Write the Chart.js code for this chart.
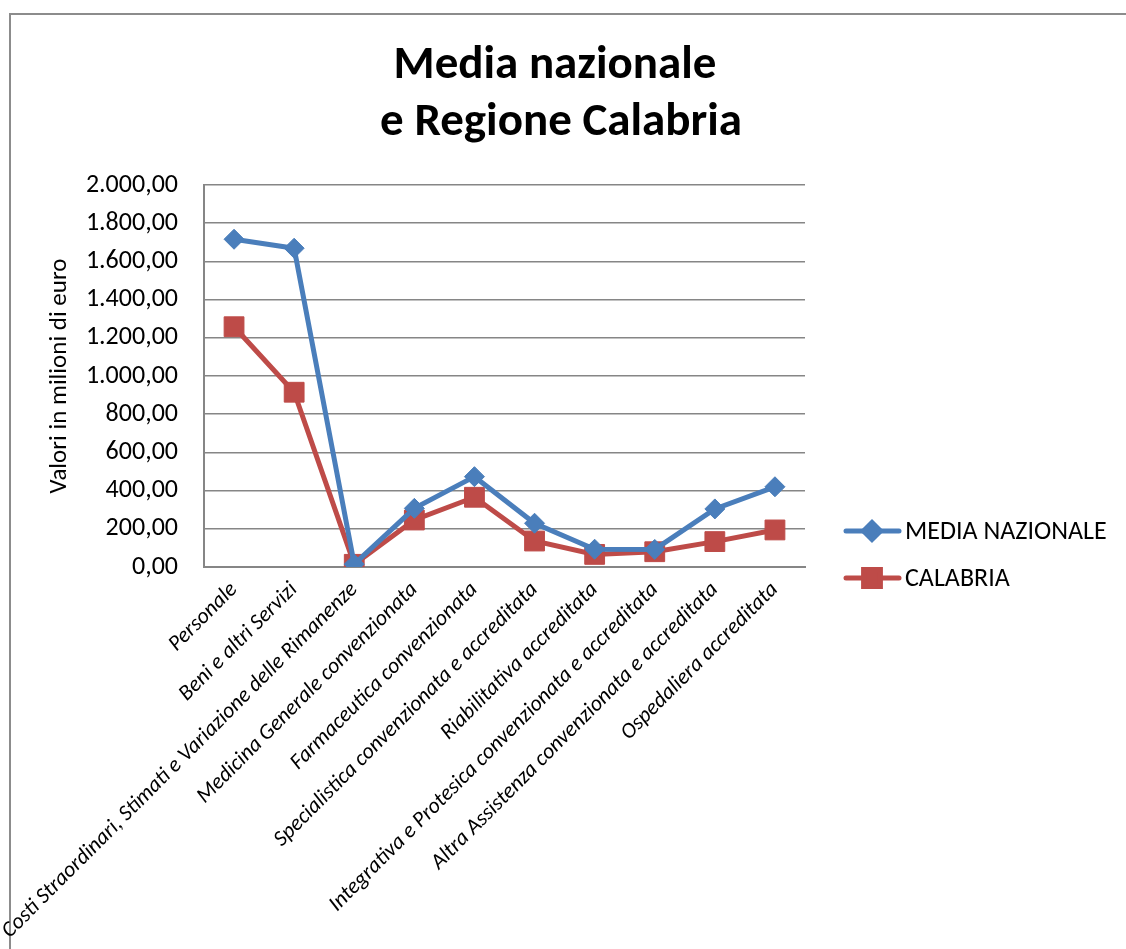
<!DOCTYPE html>
<html>
<head>
<meta charset="utf-8">
<script src="https://cdn.jsdelivr.net/npm/chart.js@4/dist/chart.umd.min.js"></script>
<style>
  html, body { margin: 0; padding: 0; background: #ffffff; }
  #wrap { width: 1126px; height: 949px; position: relative; }
</style>
</head>
<body>
<div id="wrap"><canvas id="c" width="1126" height="949"></canvas></div>
<script>
// Cost categories (milioni di euro)
const categories = [
  'Personale',
  'Beni e altri Servizi',
  'Costi Straordinari, Stimati e Variazione delle Rimanenze',
  'Medicina Generale convenzionata',
  'Farmaceutica convenzionata',
  'Specialistica convenzionata e accreditata',
  'Riabilitativa accreditata',
  'Integrativa e Protesica convenzionata e accreditata',
  'Altra Assistenza convenzionata e accreditata',
  'Ospedaliera accreditata'
];
const mediaNazionale = [1716, 1669, 15, 307, 473, 229, 93, 92, 304, 420];
const calabria = [1258, 915, 14, 246, 365, 136, 66, 80, 133, 194];
const seriesNames = ['MEDIA NAZIONALE', 'CALABRIA'];
const titleLines = ['Media nazionale', 'e Regione Calabria'];
const yAxisTitle = 'Valori in milioni di euro';
const yMin = 0, yMax = 2000, yStep = 200;

const FONT = 'Carlito, Lato, "Open Sans", sans-serif';
const BLUE = '#4a7ebb';
const RED = '#be4b48';
const GRID = '#868686';

// Italian number format: 1.800,00
function fmtIt(v) {
  const parts = Number(v).toFixed(2).split('.');
  return parts[0].replace(/\B(?=(\d{3})+(?!\d))/g, '.') + ',' + parts[1];
}

// Outer frame and two-line title
const framePlugin = {
  id: 'frameTitle',
  beforeDraw(chart) {
    const ctx = chart.ctx;
    ctx.save();
    ctx.fillStyle = '#ffffff';
    ctx.fillRect(0, 0, chart.width, chart.height);
    ctx.strokeStyle = '#8c8c8c';
    ctx.lineWidth = 2;
    ctx.strokeRect(10, 14, chart.width + 20, chart.height + 20);
    ctx.restore();
  },
  afterDraw(chart) {
    const ctx = chart.ctx;
    ctx.save();
    ctx.fillStyle = '#000000';
    ctx.font = 'bold 47px ' + FONT;
    ctx.textAlign = 'center';
    ctx.textBaseline = 'alphabetic';
    ctx.fillText(titleLines[0], 555, 78);
    ctx.fillText(titleLines[1], 561, 135);
    ctx.restore();
  }
};

// Legend on the right, drawn from the dataset styles
const legendPlugin = {
  id: 'sideLegend',
  afterDraw(chart) {
    const ctx = chart.ctx;
    const rows = [531, 578];
    chart.data.datasets.forEach((ds, i) => {
      const y = rows[i];
      ctx.save();
      ctx.strokeStyle = ds.borderColor;
      ctx.lineWidth = ds.borderWidth;
      ctx.lineCap = 'round';
      ctx.beginPath();
      ctx.moveTo(846, y);
      ctx.lineTo(899, y);
      ctx.stroke();
      ctx.fillStyle = ds.pointBackgroundColor;
      ctx.strokeStyle = ds.pointBorderColor;
      Chart.helpers.drawPoint(ctx, {
        pointStyle: ds.pointStyle,
        radius: ds.pointRadius * 0.85,
        borderWidth: 1,
        rotation: 0
      }, 872, y);
      ctx.fillStyle = '#000000';
      ctx.font = '26px ' + FONT;
      ctx.textAlign = 'left';
      ctx.textBaseline = 'middle';
      ctx.fillText(ds.label, 905, y + 1);
      ctx.restore();
    });
  }
};

new Chart(document.getElementById('c'), {
  type: 'line',
  data: {
    labels: categories,
    datasets: [
      {
        label: seriesNames[0],
        data: mediaNazionale,
        borderColor: BLUE,
        backgroundColor: BLUE,
        pointBackgroundColor: BLUE,
        pointBorderColor: BLUE,
        borderWidth: 5,
        pointStyle: 'rectRot',
        pointRadius: 10,
        pointBorderWidth: 1,
        tension: 0
      },
      {
        label: seriesNames[1],
        data: calabria,
        borderColor: RED,
        backgroundColor: RED,
        pointBackgroundColor: RED,
        pointBorderColor: RED,
        borderWidth: 5,
        pointStyle: 'rect',
        pointRadius: 14,
        pointBorderWidth: 1,
        tension: 0
      }
    ]
  },
  options: {
    responsive: false,
    animation: false,
    devicePixelRatio: 1,
    layout: { padding: { left: 10, right: 321, top: 185, bottom: 0 } },
    plugins: {
      legend: { display: false },
      title: { display: false },
      tooltip: { enabled: false }
    },
    scales: {
      x: {
        offset: true,
        grid: { display: false, drawTicks: false },
        border: { display: true, color: GRID, width: 2 },
        ticks: {
          autoSkip: false,
          minRotation: 45,
          maxRotation: 45,
          padding: 10,
          color: '#000000',
          font: { family: FONT, size: 22, style: 'italic' }
        },
        afterFit(scale) { scale.height = 949 - 567; }
      },
      y: {
        min: yMin,
        max: yMax,
        grid: { color: GRID, lineWidth: 1.5, drawTicks: false },
        border: { display: true, color: GRID, width: 2 },
        ticks: {
          stepSize: yStep,
          padding: 26,
          color: '#000000',
          font: { family: FONT, size: 26 },
          callback: (v) => fmtIt(v)
        },
        title: {
          display: true,
          text: yAxisTitle,
          color: '#000000',
          font: { family: FONT, size: 25 },
          padding: { top: 35, bottom: 0 }
        },
        afterFit(scale) { scale.width = 204 - 10; }
      }
    }
  },
  plugins: [framePlugin, legendPlugin]
});
</script>
</body>
</html>
